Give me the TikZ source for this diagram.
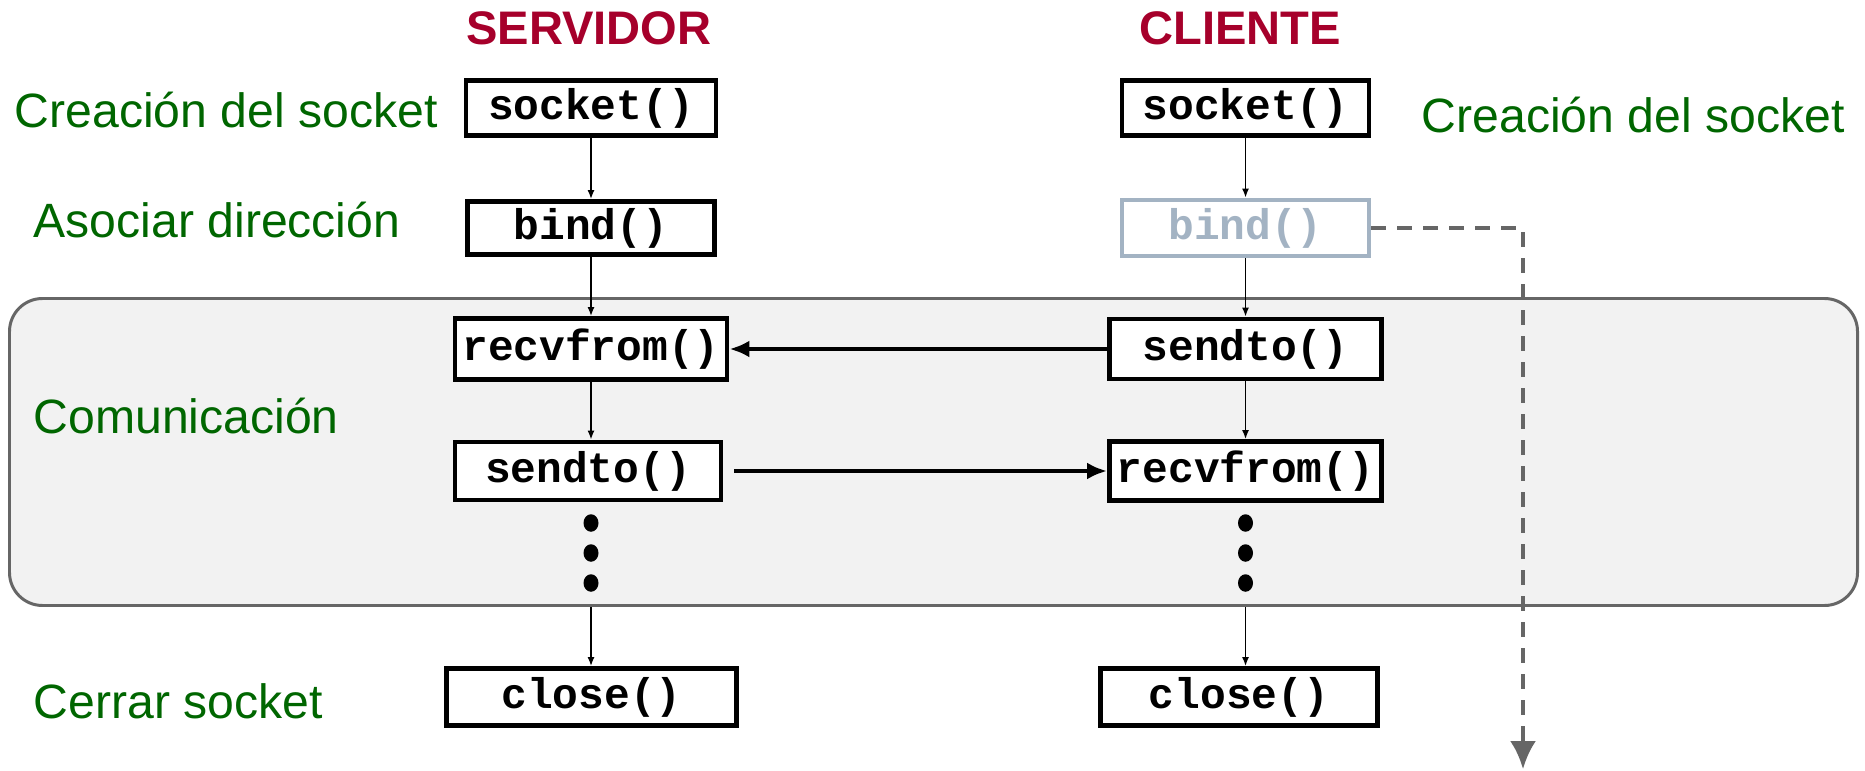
\documentclass[tikz,border=0pt]{standalone}
\usepackage{fontspec}
\setmainfont{Liberation Sans}
\setmonofont{Liberation Mono}
\usetikzlibrary{arrows.meta,shapes.geometric}
\definecolor{vertetiq}{HTML}{006600}
\definecolor{rougetitre}{HTML}{A6002B}
\definecolor{grisbind}{HTML}{A3B3C3}
\definecolor{fondcom}{HTML}{F2F2F2}
\definecolor{bordcom}{HTML}{666666}
\begin{document}
\begin{tikzpicture}
			% Styles
			\tikzstyle{fonction}=[draw=black,line width=1.4pt,fill=white,inner sep=0pt,font=\fontsize{12.2}{14}\selectfont\ttfamily\bfseries]
			\tikzstyle{fonctiongrise}=[fonction,draw=grisbind,text=grisbind]
			\tikzstyle{etiquette}=[anchor=base west,inner sep=0pt,text=vertetiq,font=\fontsize{13.7}{16}\selectfont]
			\tikzstyle{titre}=[anchor=base,inner sep=0pt,text=rougetitre,font=\fontsize{13.4}{16}\selectfont\bfseries]
			\tikzstyle{appel}=[-{Latex[length=0.9mm,width=0.7mm]},line width=0.4pt]
			\tikzstyle{message}=[-{Latex[length=2mm,width=1.7mm]},line width=1.2pt]
			\tikzstyle{pointille}=[-{Latex[length=2.8mm,width=2.6mm]},line width=1.1pt,draw=bordcom,dash pattern=on 1.5mm off 1.1mm]
			\tikzstyle{point}=[ellipse,fill=black,inner sep=0pt,minimum width=1.5mm,minimum height=1.75mm]
			% Dimensions
			\def\ColServeur{5.91}
			\def\ColClient{12.455}
			\def\NiveauTitre{-0.45}
			\def\NiveauA{-1.08}
			\def\NiveauB{-2.28}
			\def\NiveauC{-3.49}
			\def\NiveauD{-4.71}
			\def\NiveauE{-6.97}
			\useasboundingbox (0,0) rectangle (18.65,-7.71);
			% Zone de communication
			\draw[fill=fondcom,draw=bordcom,line width=0.85pt,rounded corners=3.3mm] (0.095,-2.985) rectangle (18.575,-6.055);
			% Titres et etiquettes
			\node[titre] (serveur) at (5.89,\NiveauTitre) {SERVIDOR};
			\node[titre] (client) at (12.40,\NiveauTitre) {CLIENTE};
			\node[etiquette] (creaS) at (0.14,-1.28) {Creación del socket};
			\node[etiquette] (asoc) at (0.33,-2.37) {Asociar dirección};
			\node[etiquette] (comu) at (0.33,-4.33) {Comunicación};
			\node[etiquette] (cerr) at (0.33,-7.18) {Cerrar socket};
			\node[etiquette] (creaC) at (14.21,-1.33) {Creación del socket};
			% Noeuds serveur
			\node[fonction,minimum width=2.50cm,minimum height=0.55cm] (socketS) at (\ColServeur,\NiveauA) {socket()};
			\node[fonction,minimum width=2.47cm,minimum height=0.53cm] (bindS) at (\ColServeur,\NiveauB) {bind()};
			\node[fonction,minimum width=2.72cm,minimum height=0.61cm] (recvS) at (\ColServeur,\NiveauC) {recvfrom()};
			\node[fonction,minimum width=2.66cm,minimum height=0.58cm] (sendS) at (5.88,\NiveauD) {sendto()};
			\node[point] (ptS1) at (\ColServeur,-5.23) {};
			\node[point] (ptS2) at (\ColServeur,-5.53) {};
			\node[point] (ptS3) at (\ColServeur,-5.83) {};
			\coordinate (finS) at (\ColServeur,-6.07);
			\node[fonction,minimum width=2.90cm,minimum height=0.57cm] (closeS) at (5.915,\NiveauE) {close()};
			% Noeuds client
			\node[fonction,minimum width=2.47cm,minimum height=0.55cm] (socketC) at (\ColClient,\NiveauA) {socket()};
			\node[fonctiongrise,minimum width=2.47cm,minimum height=0.56cm] (bindC) at (\ColClient,\NiveauB) {bind()};
			\node[fonction,minimum width=2.72cm,minimum height=0.60cm] (sendC) at (\ColClient,\NiveauC) {sendto()};
			\node[fonction,minimum width=2.72cm,minimum height=0.59cm] (recvC) at (\ColClient,\NiveauD) {recvfrom()};
			\node[point] (ptC1) at (\ColClient,-5.23) {};
			\node[point] (ptC2) at (\ColClient,-5.53) {};
			\node[point] (ptC3) at (\ColClient,-5.83) {};
			\coordinate (finC) at (\ColClient,-6.07);
			\node[fonction,minimum width=2.77cm,minimum height=0.57cm] (closeC) at (12.39,\NiveauE) {close()};
			\coordinate (bas) at (15.23,-7.69);
			% Fleches
			\draw[appel] (socketS) -- (bindS);
			\draw[appel] (bindS) -- (recvS);
			\draw[appel] (recvS) -- (sendS.north -| recvS);
			\draw[appel] (finS) -- (finS |- closeS.north);
			\draw[appel] (socketC) -- (bindC);
			\draw[appel] (bindC) -- (sendC);
			\draw[appel] (sendC) -- (recvC);
			\draw[appel] (finC) -- (finC |- closeC.north);
			\draw[message] (sendC.west) -- (recvS.east);
			\draw[message,shorten <=1.1mm] (sendS.east) -- (recvC.west);
			\draw[pointille] (bindC.east) -| (bas);
		\end{tikzpicture}
\end{document}
